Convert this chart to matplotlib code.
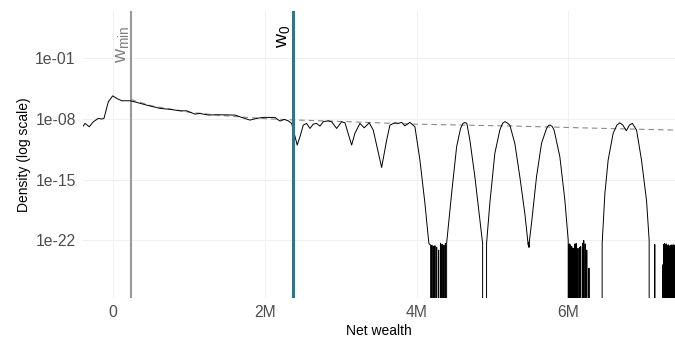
import numpy as np
import matplotlib
matplotlib.use("Agg")
import matplotlib.pyplot as plt
from matplotlib.ticker import FixedLocator, FuncFormatter

plt.rcParams["font.family"] = ["Liberation Sans", "DejaVu Sans"]
plt.rcParams["mathtext.fontset"] = "custom"
plt.rcParams["mathtext.rm"] = "Liberation Sans"

ZERO = -np.inf  # density exactly zero (log10 of 0)

# Kernel density of net wealth (millions), log10 of the density
kde_wealth = [
    -0.404, -0.373, -0.317, -0.264, -0.198, -0.153, -0.123, -0.066, -0.008, 0.045,
    0.111, 0.220, 0.309, 0.440, 0.616, 0.748, 0.880, 0.968, 1.077, 1.143,
    1.253, 1.341, 1.474, 1.606, 1.693, 1.803, 1.891, 1.978, 2.132, 2.198,
    2.255, 2.308, 2.353, 2.387, 2.426, 2.462, 2.506, 2.550, 2.594, 2.638,
    2.682, 2.726, 2.769, 2.835, 2.880, 2.946, 3.012, 3.056, 3.144, 3.187,
    3.253, 3.310, 3.376, 3.429, 3.540, 3.606, 3.649, 3.715, 3.759, 3.803,
    3.847, 3.913, 3.979, 4.045, 4.111, 4.163, 4.186,
    # numerical noise around 4.2M
    4.195, 4.203, 4.213, 4.223, 4.233, 4.243, 4.256, 4.266, 4.282,
    4.292, 4.302, 4.316, 4.326, 4.336, 4.351, 4.361, 4.371, 4.381, 4.390,
    4.397, 4.463, 4.529, 4.581, 4.612, 4.638, 4.664, 4.704, 4.770, 4.836,
    4.872, 4.880, 4.915, 4.924, 4.967, 5.033, 5.099, 5.135, 5.165, 5.198,
    5.231, 5.297, 5.363, 5.429, 5.465, 5.473, 5.478, 5.484, 5.490, 5.517,
    5.583, 5.649, 5.715, 5.740, 5.762, 5.790, 5.815, 5.891, 5.957, 6.001,
    # numerical noise around 6.1M
    6.008, 6.016, 6.024, 6.032, 6.040, 6.048, 6.056, 6.066, 6.080, 6.090,
    6.098, 6.106, 6.118, 6.130, 6.138, 6.150, 6.158, 6.166, 6.178, 6.190,
    6.198, 6.206, 6.214, 6.226, 6.236, 6.246, 6.256, 6.275, 6.285, 6.446,
    6.449, 6.485, 6.528, 6.594, 6.643, 6.682, 6.722, 6.768, 6.808, 6.847,
    6.903, 6.968, 7.034, 7.069, 7.084, 7.137, 7.143, 7.154, 7.245,
    # numerical noise at the top end
    7.250, 7.256, 7.262, 7.268, 7.274, 7.280, 7.286, 7.292, 7.298, 7.304,
    7.310, 7.316, 7.322, 7.328, 7.334, 7.340, 7.346, 7.352, 7.358, 7.364,
    7.370, 7.376, 7.382, 7.388, 7.394, 7.400, 7.406, 7.412,
]
kde_log10 = [
    -8.89, -8.50, -8.89, -8.31, -7.92, -8.00, -7.92, -6.01, -5.32, -5.62,
    -5.89, -5.89, -6.08, -6.39, -6.77, -6.88, -7.05, -7.05, -7.43, -7.35,
    -7.54, -7.51, -7.51, -7.54, -7.81, -8.12, -7.92, -7.81, -7.81, -8.23,
    -8.04, -8.20, -8.50, -9.65, -11.00, -10.05, -8.70, -8.50, -9.08, -8.58,
    -8.50, -8.81, -8.31, -8.20, -8.31, -9.08, -8.31, -8.43, -11.00, -9.65,
    -8.50, -9.01, -8.43, -9.27, -13.58, -10.43, -8.70, -8.43, -8.50, -8.38,
    -8.78, -8.38, -8.89, -12.73, -17.73, -22.35, -22.54,
    ZERO, -22.54, ZERO, -22.66, ZERO, -22.60, ZERO, -22.77, ZERO,
    -23.12, ZERO, -22.31, ZERO, -22.43, ZERO, -22.54, ZERO, -22.37, ZERO,
    -22.35, -16.58, -11.20, -9.08, -8.50, -8.40, -8.50, -10.43, -14.66, -19.66,
    -22.35, ZERO, ZERO, -22.35, -17.73, -11.96, -9.27, -8.50, -8.29, -8.45,
    -8.70, -10.81, -14.66, -18.88, -21.90, -22.50, -22.20, -22.80, -22.00, -20.04,
    -14.66, -10.81, -9.08, -8.75, -8.68, -8.85, -9.27, -12.35, -17.35, -21.96,
    ZERO, -22.40, ZERO, -22.50, ZERO, -22.70, ZERO, -22.90, ZERO, -22.40,
    ZERO, -22.35, ZERO, -22.90, ZERO, -22.80, ZERO, -22.70, ZERO, -22.30,
    ZERO, -22.00, ZERO, -22.40, ZERO, -23.10, ZERO, -25.20, ZERO, ZERO,
    -22.35, -16.58, -12.73, -9.65, -8.70, -8.43, -8.70, -9.35, -8.70, -8.50,
    -9.27, -12.73, -17.35, -21.96, ZERO, ZERO, -22.46, ZERO, ZERO,
    -24.80, ZERO, -22.45, ZERO, -22.35, ZERO, -22.50, ZERO, -22.40, ZERO,
    -22.60, ZERO, -22.50, ZERO, -22.70, ZERO, -22.55, ZERO, -22.60, ZERO,
    -22.50, ZERO, -22.70, ZERO, -22.50, ZERO, -22.60, ZERO,
]

# Fitted Pareto tail (dashed)
pareto_wealth = [0.233, 0.5, 1.0, 1.5, 2.0, 2.375, 2.857, 3.956, 4.638, 5.297, 5.957, 6.48, 7.41]
pareto_log10 = [-5.75, -6.47, -7.21, -7.64, -7.95, -8.10, -8.23, -8.58, -8.70, -8.81, -8.96, -9.08, -9.27]

w_min = 0.233
w_0 = 2.375

x_ticks = [0, 2, 4, 6]
x_tick_labels = ["0", "2M", "4M", "6M"]
y_ticks = [1e-1, 1e-8, 1e-15, 1e-22]


def main():
    fig = plt.figure(figsize=(6.75, 3.4), dpi=100)
    ax = fig.add_axes([0.1225, 0.1244, 0.8775, 0.8432])

    density = np.power(10.0, np.array(kde_log10))
    ax.set_yscale("log", nonpositive="clip")

    ax.axvline(w_min, color="#999999", lw=1.5, zorder=2)
    ax.axvline(w_0, color="#2A788E", lw=2.2, zorder=4)

    ax.plot(pareto_wealth, np.power(10.0, pareto_log10), color="#8a8a8a",
            lw=0.8, dashes=(5, 3.5), zorder=2)
    ax.plot(kde_wealth, density, color="black", lw=0.7, zorder=3)

    ax.set_xlim(-0.404, 7.41)
    ax.set_ylim(10 ** -28.6, 10 ** 4.46)

    ax.xaxis.set_major_locator(FixedLocator(x_ticks))
    ax.xaxis.set_major_formatter(FuncFormatter(lambda v, p: x_tick_labels[x_ticks.index(round(v))]))
    ax.yaxis.set_major_locator(FixedLocator(y_ticks))
    ax.yaxis.set_minor_locator(FixedLocator([]))
    ax.yaxis.set_major_formatter(FuncFormatter(lambda v, p: f"{v:.0e}"))

    ax.grid(True, which="major", color="#EEEEEE", lw=0.6)
    ax.set_axisbelow(True)
    for s in ax.spines.values():
        s.set_visible(False)
    ax.tick_params(length=0, pad=5, labelsize=11.3, labelcolor="#4D4D4D")

    ax.set_xlabel("Net wealth", fontsize=10, labelpad=3)
    ax.set_ylabel("Density (log scale)", fontsize=10, labelpad=3)

    # rotated labels for the two thresholds
    trans = ax.get_xaxis_transform()
    ax.annotate(r"$\mathrm{w}_{\mathrm{min}}$", xy=(w_min, 0.951), xycoords=trans,
                xytext=(1, 0), textcoords="offset pixels",
                rotation=90, ha="right", va="top", fontsize=14, color="#808080")
    ax.annotate(r"$\mathrm{w}_{0}$", xy=(w_0, 0.951), xycoords=trans,
                xytext=(0, 0), textcoords="offset pixels",
                rotation=90, ha="right", va="top", fontsize=14, color="black")

    fig.savefig("out.png", dpi=100)
    plt.close(fig)


if __name__ == "__main__":
    main()
